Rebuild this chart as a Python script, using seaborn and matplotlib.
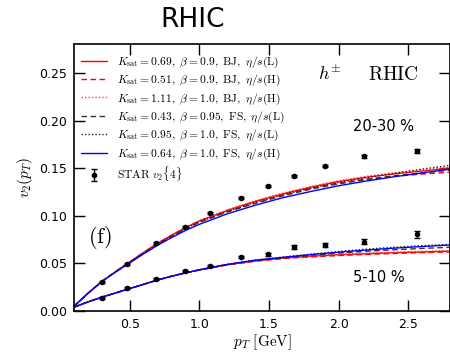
import matplotlib
matplotlib.use("Agg")
import matplotlib.pyplot as plt
import seaborn as sns
import numpy as np
import pandas as pd

# ---------------- data ----------------
pt = [0.1, 0.2, 0.3, 0.4, 0.5, 0.6, 0.7, 0.8, 0.9, 1.0, 1.2, 1.4, 1.6, 1.8, 2.0, 2.2, 2.4, 2.6, 2.8]

# 20-30 % centrality curves
hi_bj_l = [0.005, 0.0185, 0.031, 0.0415, 0.0515, 0.0615, 0.0710, 0.0795, 0.0875, 0.0945, 0.1055, 0.115, 0.123, 0.130, 0.136, 0.1405, 0.144, 0.147, 0.150]
hi_bj_h1 = [0.005, 0.0185, 0.031, 0.0415, 0.0515, 0.0615, 0.0710, 0.0795, 0.0875, 0.0945, 0.1055, 0.1148, 0.1225, 0.129, 0.1345, 0.1385, 0.1415, 0.1438, 0.1457]
hi_bj_h2 = [0.005, 0.0185, 0.031, 0.0415, 0.0515, 0.0615, 0.0712, 0.0798, 0.0878, 0.0950, 0.1062, 0.1158, 0.1238, 0.1308, 0.1368, 0.1415, 0.1452, 0.1483, 0.151]
hi_fs_l1 = [0.005, 0.0185, 0.031, 0.0412, 0.051, 0.0607, 0.0700, 0.0782, 0.0860, 0.093, 0.104, 0.113, 0.121, 0.128, 0.1335, 0.138, 0.142, 0.145, 0.148]
hi_fs_l2 = [0.005, 0.0185, 0.031, 0.0412, 0.051, 0.0608, 0.0702, 0.0785, 0.0863, 0.0935, 0.1045, 0.1138, 0.1218, 0.129, 0.135, 0.140, 0.1445, 0.149, 0.153]
hi_fs_h = [0.005, 0.0185, 0.031, 0.041, 0.0505, 0.060, 0.069, 0.077, 0.0845, 0.091, 0.102, 0.111, 0.119, 0.1255, 0.1315, 0.1365, 0.141, 0.145, 0.149]

# 5-10 % centrality curves
lo_bj_l = [0.004, 0.0095, 0.0145, 0.019, 0.0235, 0.028, 0.0325, 0.0365, 0.040, 0.043, 0.0485, 0.0525, 0.0555, 0.0575, 0.059, 0.0602, 0.0612, 0.062, 0.0628]
lo_bj_h1 = [0.004, 0.0095, 0.0145, 0.019, 0.0235, 0.028, 0.0325, 0.0365, 0.040, 0.043, 0.0483, 0.0522, 0.055, 0.0568, 0.0582, 0.0594, 0.0604, 0.0613, 0.062]
lo_bj_h2 = [0.004, 0.0095, 0.0145, 0.019, 0.0235, 0.028, 0.0325, 0.0365, 0.040, 0.0432, 0.0488, 0.0528, 0.0558, 0.058, 0.0595, 0.0607, 0.0618, 0.0627, 0.0635]
lo_fs_l1 = [0.004, 0.0095, 0.0145, 0.019, 0.0235, 0.028, 0.0325, 0.0365, 0.040, 0.0432, 0.0488, 0.053, 0.0558, 0.0585, 0.0608, 0.0628, 0.0643, 0.0657, 0.0669]
lo_fs_l2 = [0.004, 0.0095, 0.0145, 0.019, 0.0235, 0.028, 0.0325, 0.0365, 0.040, 0.0433, 0.0490, 0.0535, 0.0567, 0.0597, 0.0625, 0.065, 0.067, 0.0686, 0.070]
lo_fs_h = [0.004, 0.0095, 0.0145, 0.019, 0.0235, 0.028, 0.0325, 0.0365, 0.040, 0.0433, 0.0489, 0.0533, 0.0563, 0.0592, 0.0618, 0.064, 0.066, 0.0677, 0.0693]

# STAR v2{4} data
star_pt = [0.30, 0.48, 0.69, 0.90, 1.08, 1.30, 1.49, 1.68, 1.90, 2.18, 2.56]
star_hi = [0.030, 0.049, 0.0718, 0.0886, 0.1028, 0.119, 0.1316, 0.1418, 0.152, 0.1625, 0.168]
star_hi_err = [0.001, 0.001, 0.001, 0.001, 0.001, 0.001, 0.001, 0.001, 0.0012, 0.0015, 0.002]
star_lo = [0.014, 0.0238, 0.0336, 0.0424, 0.0476, 0.057, 0.0595, 0.067, 0.0697, 0.0728, 0.0805]
star_lo_err = [0.001, 0.001, 0.001, 0.001, 0.001, 0.0012, 0.0015, 0.0018, 0.002, 0.0025, 0.0035]

labels = [
    r"$K_{\mathrm{sat}}=0.69,\ \beta=0.9,\ \mathrm{BJ},\ \eta/s(\mathrm{L})$",
    r"$K_{\mathrm{sat}}=0.51,\ \beta=0.9,\ \mathrm{BJ},\ \eta/s(\mathrm{H})$",
    r"$K_{\mathrm{sat}}=1.11,\ \beta=1.0,\ \mathrm{BJ},\ \eta/s(\mathrm{H})$",
    r"$K_{\mathrm{sat}}=0.43,\ \beta=0.95,\ \mathrm{FS},\ \eta/s(\mathrm{L})$",
    r"$K_{\mathrm{sat}}=0.95,\ \beta=1.0,\ \mathrm{FS},\ \eta/s(\mathrm{L})$",
    r"$K_{\mathrm{sat}}=0.64,\ \beta=1.0,\ \mathrm{FS},\ \eta/s(\mathrm{H})$",
]
star_label = r"$\mathrm{STAR}\ v_2\{4\}$"

# ---------------- style ----------------
sns.set_style("ticks")
plt.rcParams["font.family"] = ["DejaVu Sans"]
plt.rcParams["mathtext.fontset"] = "cm"
plt.rcParams["axes.edgecolor"] = "black"
plt.rcParams["xtick.color"] = "black"
plt.rcParams["ytick.color"] = "black"
plt.rcParams["text.color"] = "black"
plt.rcParams["axes.labelcolor"] = "black"

fig = plt.figure(figsize=(4.5, 3.55), dpi=100)
ax = fig.add_axes([0.1644, 0.124, 0.8356, 0.751])

styles = [
    dict(color="#ff0000", linestyle="-"),
    dict(color="#ff0000", linestyle=(0, (4, 2.5))),
    dict(color="#ff4040", linestyle=(0, (1, 1.5))),
    dict(color="#333333", linestyle=(0, (4, 2.5))),
    dict(color="#222222", linestyle=(0, (1, 1.5))),
    dict(color="#0000ff", linestyle="-"),
]
hi_sets = [hi_bj_l, hi_bj_h1, hi_bj_h2, hi_fs_l1, hi_fs_l2, hi_fs_h]
lo_sets = [lo_bj_l, lo_bj_h1, lo_bj_h2, lo_fs_l1, lo_fs_l2, lo_fs_h]

for lab, st, yh, yl in zip(labels, styles, hi_sets, lo_sets):
    df_h = pd.DataFrame({"pt": pt, "v2": yh})
    df_l = pd.DataFrame({"pt": pt, "v2": yl})
    sns.lineplot(data=df_h, x="pt", y="v2", ax=ax, lw=1.0, label=lab, **st)
    sns.lineplot(data=df_l, x="pt", y="v2", ax=ax, lw=1.0, label="_nolegend_", **st)

ax.errorbar(star_pt, star_hi, yerr=star_hi_err, fmt="o", color="black", ms=3,
            elinewidth=1, capsize=2.5, capthick=1, label=star_label, zorder=5)
ax.errorbar(star_pt, star_lo, yerr=star_lo_err, fmt="o", color="black", ms=3,
            elinewidth=1, capsize=2.5, capthick=1, label="_nolegend_", zorder=5)

ax.set_xlim(0.1, 2.8)
ax.set_ylim(0.0, 0.28)
ax.set_xticks([0.5, 1.0, 1.5, 2.0, 2.5])
ax.set_yticks([0.0, 0.05, 0.10, 0.15, 0.20, 0.25])
ax.set_xticklabels(["0.5", "1.0", "1.5", "2.0", "2.5"])
ax.set_yticklabels(["0.00", "0.05", "0.10", "0.15", "0.20", "0.25"])
ax.tick_params(direction="in", length=8, width=1, top=True, right=True, labelsize=9, pad=5)
for s in ax.spines.values():
    s.set_linewidth(1.2)
    s.set_color("black")

ax.set_xlabel(r"$p_T\ [\mathrm{GeV}]$", fontsize=11, labelpad=1)
ax.set_ylabel(r"$v_2(p_T)$", fontsize=11, labelpad=3)

leg = ax.legend(loc="upper left", frameon=False, fontsize=8.3, handlelength=2.2,
                labelspacing=0.27, handletextpad=0.85, borderaxespad=0.3,
                borderpad=0.35, bbox_to_anchor=(0.0, 0.99))

ax.text(1.94, 0.248, r"$h^{\pm}$", fontsize=13, ha="center", va="center")
ax.text(2.39, 0.248, r"$\mathrm{RHIC}$", fontsize=14, ha="center", va="center")
ax.text(2.1, 0.194, "20-30 %", fontsize=10.5, ha="left", va="center")
ax.text(2.1, 0.0347, "5-10 %", fontsize=10.5, ha="left", va="center")
ax.text(0.29, 0.0767, r"$(\mathrm{f})$", fontsize=16, ha="center", va="center")

fig.text(193 / 450, 1 - 20 / 355, "RHIC", fontsize=19, ha="center", va="center")

fig.savefig("out.png", dpi=100)
